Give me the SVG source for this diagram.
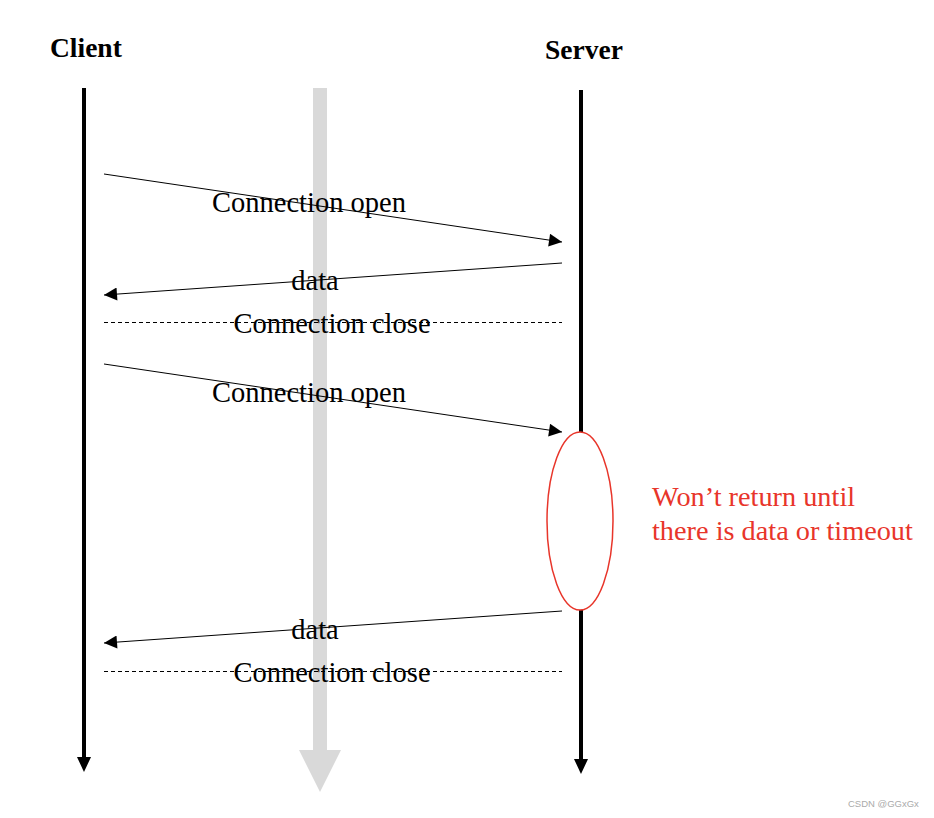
<svg xmlns="http://www.w3.org/2000/svg" width="934" height="818" viewBox="0 0 934 818">
<style>
.lbl{font-family:"Liberation Serif","Times New Roman",serif;font-size:28.5px;fill:#000;text-anchor:middle}
.hd{font-family:"Liberation Serif","Times New Roman",serif;font-size:27.5px;font-weight:bold;fill:#000}
.red{font-family:"Liberation Serif","Times New Roman",serif;font-size:28.3px;fill:#e8352a}
.msg{stroke:#000;stroke-width:1;fill:none}
.dash{stroke:#000;stroke-width:1;stroke-dasharray:4 3;fill:none}
.life{stroke:#000;stroke-width:4}
</style>
<defs>
<marker id="ah" viewBox="0 0 10 10" refX="10" refY="5" markerWidth="17" markerHeight="13" markerUnits="userSpaceOnUse" orient="auto">
<path d="M0,0 L10,5 L0,10 Z" fill="#000"/>
</marker>
</defs>
<rect width="934" height="818" fill="#fff"/>
<g id="timeline">
<rect x="313" y="88" width="14" height="664" fill="#d9d9d9"/>
<polygon points="299,750 341,750 320,792" fill="#d9d9d9"/>
</g>
<g id="client">
<text class="hd" x="50" y="57">Client</text>
<line class="life" x1="84" y1="88" x2="84" y2="758"/>
<polygon points="77,757 91,757 84,772" fill="#000"/>
</g>
<g id="server">
<text class="hd" x="545" y="59">Server</text>
<line class="life" x1="581" y1="90" x2="581" y2="760"/>
<polygon points="574,759 588,759 581,774" fill="#000"/>
</g>
<g id="wait">
<ellipse cx="580" cy="521" rx="33" ry="89" fill="#fff" stroke="#e8352a" stroke-width="1.5"/>
<text class="red" x="652" y="506">Won’t return until</text>
<text class="red" x="652" y="540">there is data or timeout</text>
</g>
<g id="connectors">
<line class="msg" x1="104" y1="174" x2="562" y2="242" marker-end="url(#ah)"/>
<line class="msg" x1="562" y1="263" x2="104" y2="295" marker-end="url(#ah)"/>
<line class="dash" x1="104" y1="322.5" x2="562" y2="322.5"/>
<line class="msg" x1="104" y1="364" x2="562" y2="432" marker-end="url(#ah)"/>
<line class="msg" x1="562" y1="611" x2="104" y2="643" marker-end="url(#ah)"/>
<line class="dash" x1="104" y1="671.5" x2="562" y2="671.5"/>
</g>
<g id="labels">
<text class="lbl" x="309" y="212">Connection open</text>
<text class="lbl" x="315" y="290">data</text>
<text class="lbl" x="332" y="333">Connection close</text>
<text class="lbl" x="309" y="402">Connection open</text>
<text class="lbl" x="315" y="639">data</text>
<text class="lbl" x="332" y="682">Connection close</text>
</g>
<text x="848" y="807" font-family="Liberation Sans,Arial,sans-serif" font-size="9.5" fill="#aaa">CSDN @GGxGx</text>
</svg>
